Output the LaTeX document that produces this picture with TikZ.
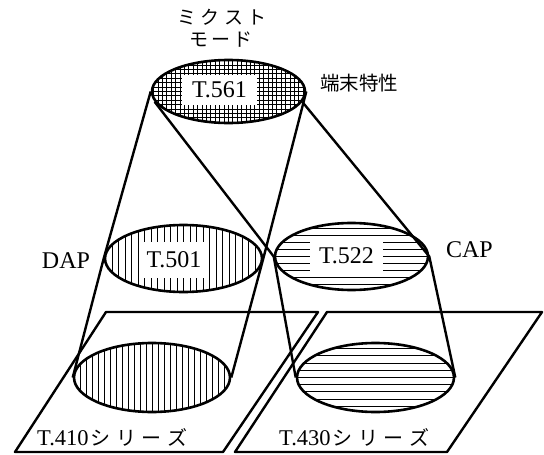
\documentclass[tikz,border=0pt]{standalone}
\usepackage{fontspec}
\setmainfont{Liberation Serif}
\newfontfamily\jp{Noto Sans CJK JP}
\usetikzlibrary{shapes.geometric}
\begin{document}
\begin{tikzpicture}[x=1pt,y=-1pt,
  thickline/.style={line width=2.4pt, line join=round},
  hatchline/.style={line width=1pt},
  ell/.style={ellipse, draw, line width=2.6pt, inner sep=0pt, fill=white},
  vhatch/.style={path picture={\foreach \i in {-16,...,16}
     \draw[hatchline] ([xshift=\i*#1]path picture bounding box.north) -- ([xshift=\i*#1]path picture bounding box.south);}},
  hhatch/.style={path picture={\foreach \i in {-8,...,8}
     \draw[hatchline] ([yshift=\i*#1]path picture bounding box.west) -- ([yshift=\i*#1]path picture bounding box.east);}},
  gridhatch/.style={path picture={\foreach \i in {-18,...,18}
     \draw[hatchline] ([xshift=\i*#1]path picture bounding box.north) -- ([xshift=\i*#1]path picture bounding box.south);
     \foreach \i in {-8,...,8}
     \draw[hatchline] ([yshift=\i*#1]path picture bounding box.west) -- ([yshift=\i*#1]path picture bounding box.east);}},
  lbl/.style={font=\fontsize{24}{24}\selectfont, inner sep=0pt},
  blbl/.style={font=\fontsize{22.5}{22.5}\selectfont, inner sep=0pt},
  tbox/.style={lbl, fill=white},
  jpsmall/.style={font=\jp\fontsize{19}{19}\selectfont, inner sep=0pt},
  jpmid/.style={font=\jp\fontsize{19.5}{19.5}\selectfont, inner sep=0pt},
]
\useasboundingbox (0,0) rectangle (544,455);
\fill[white] (0,0) rectangle (544,455);

% parallelograms
\coordinate (la) at (15,452); \coordinate (lb) at (223,452);
\coordinate (lc) at (318,312); \coordinate (ld) at (106,312);
\coordinate (ra) at (235,452); \coordinate (rb) at (447,452);
\coordinate (rc) at (542,312); \coordinate (rd) at (327,312);
\draw[thickline] (la) -- (lb) -- (lc) -- (ld) -- cycle;
\draw[thickline] (ra) -- (rb) -- (rc) -- (rd) -- cycle;

% bottom ellipses
\node[ell, minimum width=156pt, minimum height=69pt, vhatch=6pt] (t410) at (152,377.5) {};
\node[ell, minimum width=157pt, minimum height=69pt, hhatch=7.2pt] (t430) at (375.5,377.5) {};

% middle and top ellipses
\node[ell, minimum width=157pt, minimum height=67pt, vhatch=6.5pt] (t501) at (183.5,258.5) {};
\node[ell, minimum width=153pt, minimum height=67pt, hhatch=7pt] (t522) at (351.5,256.5) {};
\node[ell, minimum width=153pt, minimum height=63pt, gridhatch=4.4pt] (t561) at (228.5,91.5) {};

% cone lines
\draw[thickline] (t561.west) -- (t501.west) -- (t410.west);
\draw[thickline] (t561.east) -- (t501.east) -- (t410.east);
\draw[thickline] (t561.188) -- (t522.west) -- (t430.west);
\draw[thickline] (t561.-8) -- (t522.east) -- (t430.east);

% text boxes
\node[tbox, minimum width=75pt, minimum height=30pt] (l561) at (219.5,90) {T.561};
\node[tbox, minimum width=66pt, minimum height=36pt] (l501) at (174,260) {T.501};
\node[tbox, minimum width=73pt, minimum height=36pt] (l522) at (346.5,256) {T.522};

% labels
\node[jpsmall] (mix1) at (222,17) {ミ\kern4.5pt ク\kern4.5pt ス\kern4.5pt ト};
\node[jpsmall] (mix2) at (221,40) {モ\kern3.5pt ー\kern3.5pt ド};
\node[jpmid] (term) at (359,83) {端末特性};
\node[lbl] (dap) at (66,261) {DAP};
\node[lbl] (cap) at (469.5,250) {CAP};
\node[blbl, anchor=west] (s410) at (37,437) {T.410{\jp\fontsize{20}{20}\selectfont\kern2pt シ\kern5.5pt リ\kern5.5pt ー\kern5.5pt ズ}};
\node[blbl, anchor=west] (s430) at (279,437) {T.430{\jp\fontsize{20}{20}\selectfont\kern2pt シ\kern5.5pt リ\kern5.5pt ー\kern5.5pt ズ}};
\end{tikzpicture}
\end{document}
